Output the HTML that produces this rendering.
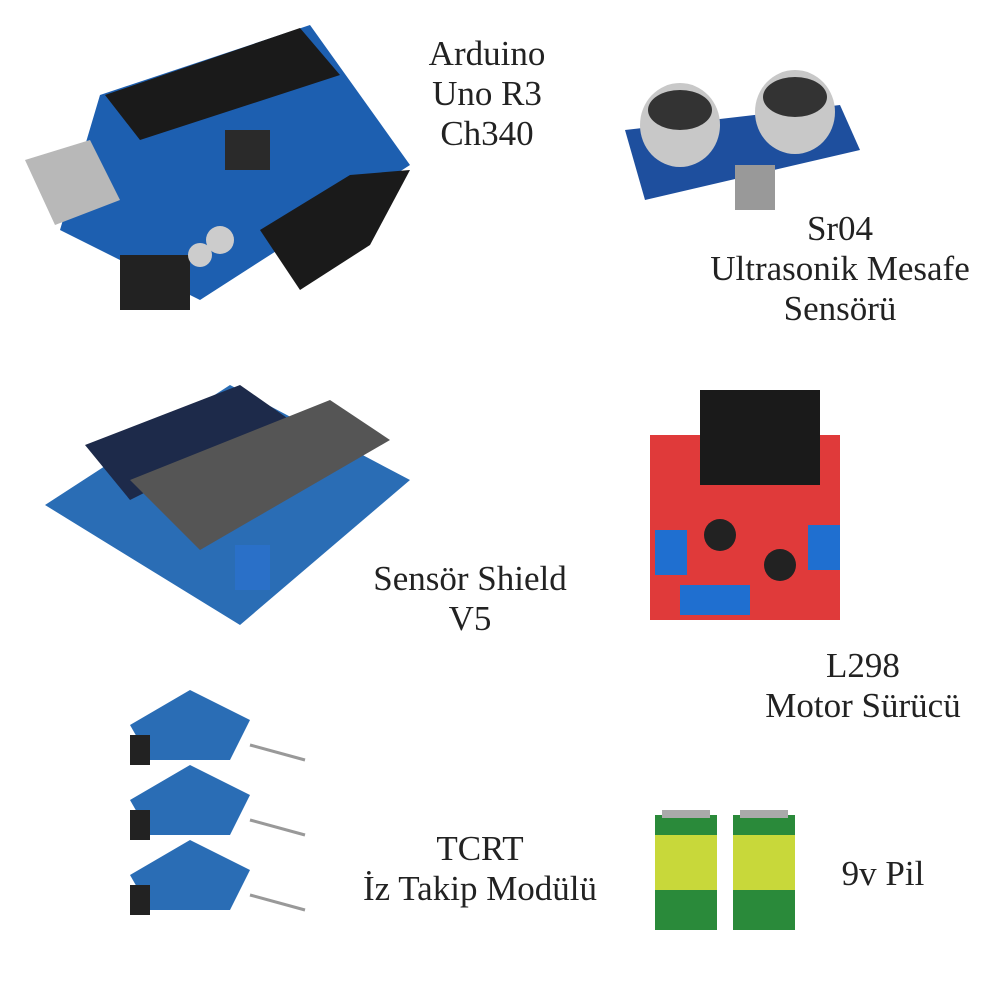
<!DOCTYPE html>
<html><head><meta charset="utf-8"><style>
html,body{margin:0;padding:0;background:#fff;}
svg{display:block}
text{font-family:"Liberation Serif",serif;font-size:35px;fill:#222;text-anchor:middle}
</style></head><body>
<svg width="1002" height="1002" viewBox="0 0 1002 1002">
<!-- Arduino -->
<polygon points="100,95 310,25 410,165 200,300 60,230" fill="#1d5fb0"/>
<polygon points="105,95 300,28 340,75 140,140" fill="#1a1a1a"/>
<polygon points="260,230 350,175 410,170 370,245 300,290" fill="#1a1a1a"/>
<polygon points="25,160 90,140 120,200 55,225" fill="#b8b8b8"/>
<rect x="120" y="255" width="70" height="55" fill="#222"/>
<rect x="225" y="130" width="45" height="40" fill="#2a2a2a"/>
<circle cx="220" cy="240" r="14" fill="#ccc"/><circle cx="200" cy="255" r="12" fill="#ccc"/>
<text x="487" y="65">Arduino</text><text x="487" y="105">Uno R3</text><text x="487" y="145">Ch340</text>
<!-- Sr04 -->
<polygon points="625,130 840,105 860,150 645,200" fill="#1e4f9e"/>
<ellipse cx="680" cy="125" rx="40" ry="42" fill="#c8c8c8"/><ellipse cx="680" cy="110" rx="32" ry="20" fill="#333"/>
<ellipse cx="795" cy="112" rx="40" ry="42" fill="#c8c8c8"/><ellipse cx="795" cy="97" rx="32" ry="20" fill="#333"/>
<rect x="735" y="165" width="40" height="45" fill="#999"/>
<text x="840" y="240">Sr04</text><text x="840" y="280">Ultrasonik Mesafe</text><text x="840" y="320">Sensörü</text>
<!-- Shield -->
<polygon points="45,505 230,385 410,480 240,625" fill="#2a6db5"/>
<polygon points="85,445 240,385 290,420 130,500" fill="#1d2a4a"/>
<polygon points="130,480 330,400 390,440 200,550" fill="#555"/>
<rect x="235" y="545" width="35" height="45" fill="#2a70c8"/>
<text x="470" y="590">Sensör Shield</text><text x="470" y="630">V5</text>
<!-- L298 -->
<rect x="650" y="435" width="190" height="185" fill="#e03a3a"/>
<rect x="700" y="390" width="120" height="95" fill="#1a1a1a"/>
<rect x="680" y="585" width="70" height="30" fill="#1f6fd0"/>
<rect x="655" y="530" width="32" height="45" fill="#1f6fd0"/>
<rect x="808" y="525" width="32" height="45" fill="#1f6fd0"/>
<circle cx="720" cy="535" r="16" fill="#222"/><circle cx="780" cy="565" r="16" fill="#222"/>
<text x="863" y="677">L298</text><text x="863" y="717">Motor Sürücü</text>
<!-- TCRT -->
<g fill="#2a6db5">
<polygon points="130,725 190,690 250,720 230,760 150,760"/>
<polygon points="130,800 190,765 250,795 230,835 150,835"/>
<polygon points="130,875 190,840 250,870 230,910 150,910"/>
</g>
<g fill="#222"><rect x="130" y="735" width="20" height="30"/><rect x="130" y="810" width="20" height="30"/><rect x="130" y="885" width="20" height="30"/></g>
<g stroke="#999" stroke-width="3"><line x1="250" y1="745" x2="305" y2="760"/><line x1="250" y1="820" x2="305" y2="835"/><line x1="250" y1="895" x2="305" y2="910"/></g>
<text x="480" y="860">TCRT</text><text x="480" y="900">İz Takip Modülü</text>
<!-- batteries -->
<rect x="655" y="815" width="62" height="115" fill="#2a8a3a"/><rect x="655" y="835" width="62" height="55" fill="#c8d83a"/>
<rect x="733" y="815" width="62" height="115" fill="#2a8a3a"/><rect x="733" y="835" width="62" height="55" fill="#c8d83a"/>
<rect x="662" y="810" width="48" height="8" fill="#aaa"/><rect x="740" y="810" width="48" height="8" fill="#aaa"/>
<text x="883" y="885">9v Pil</text>
</svg>
</body></html>
